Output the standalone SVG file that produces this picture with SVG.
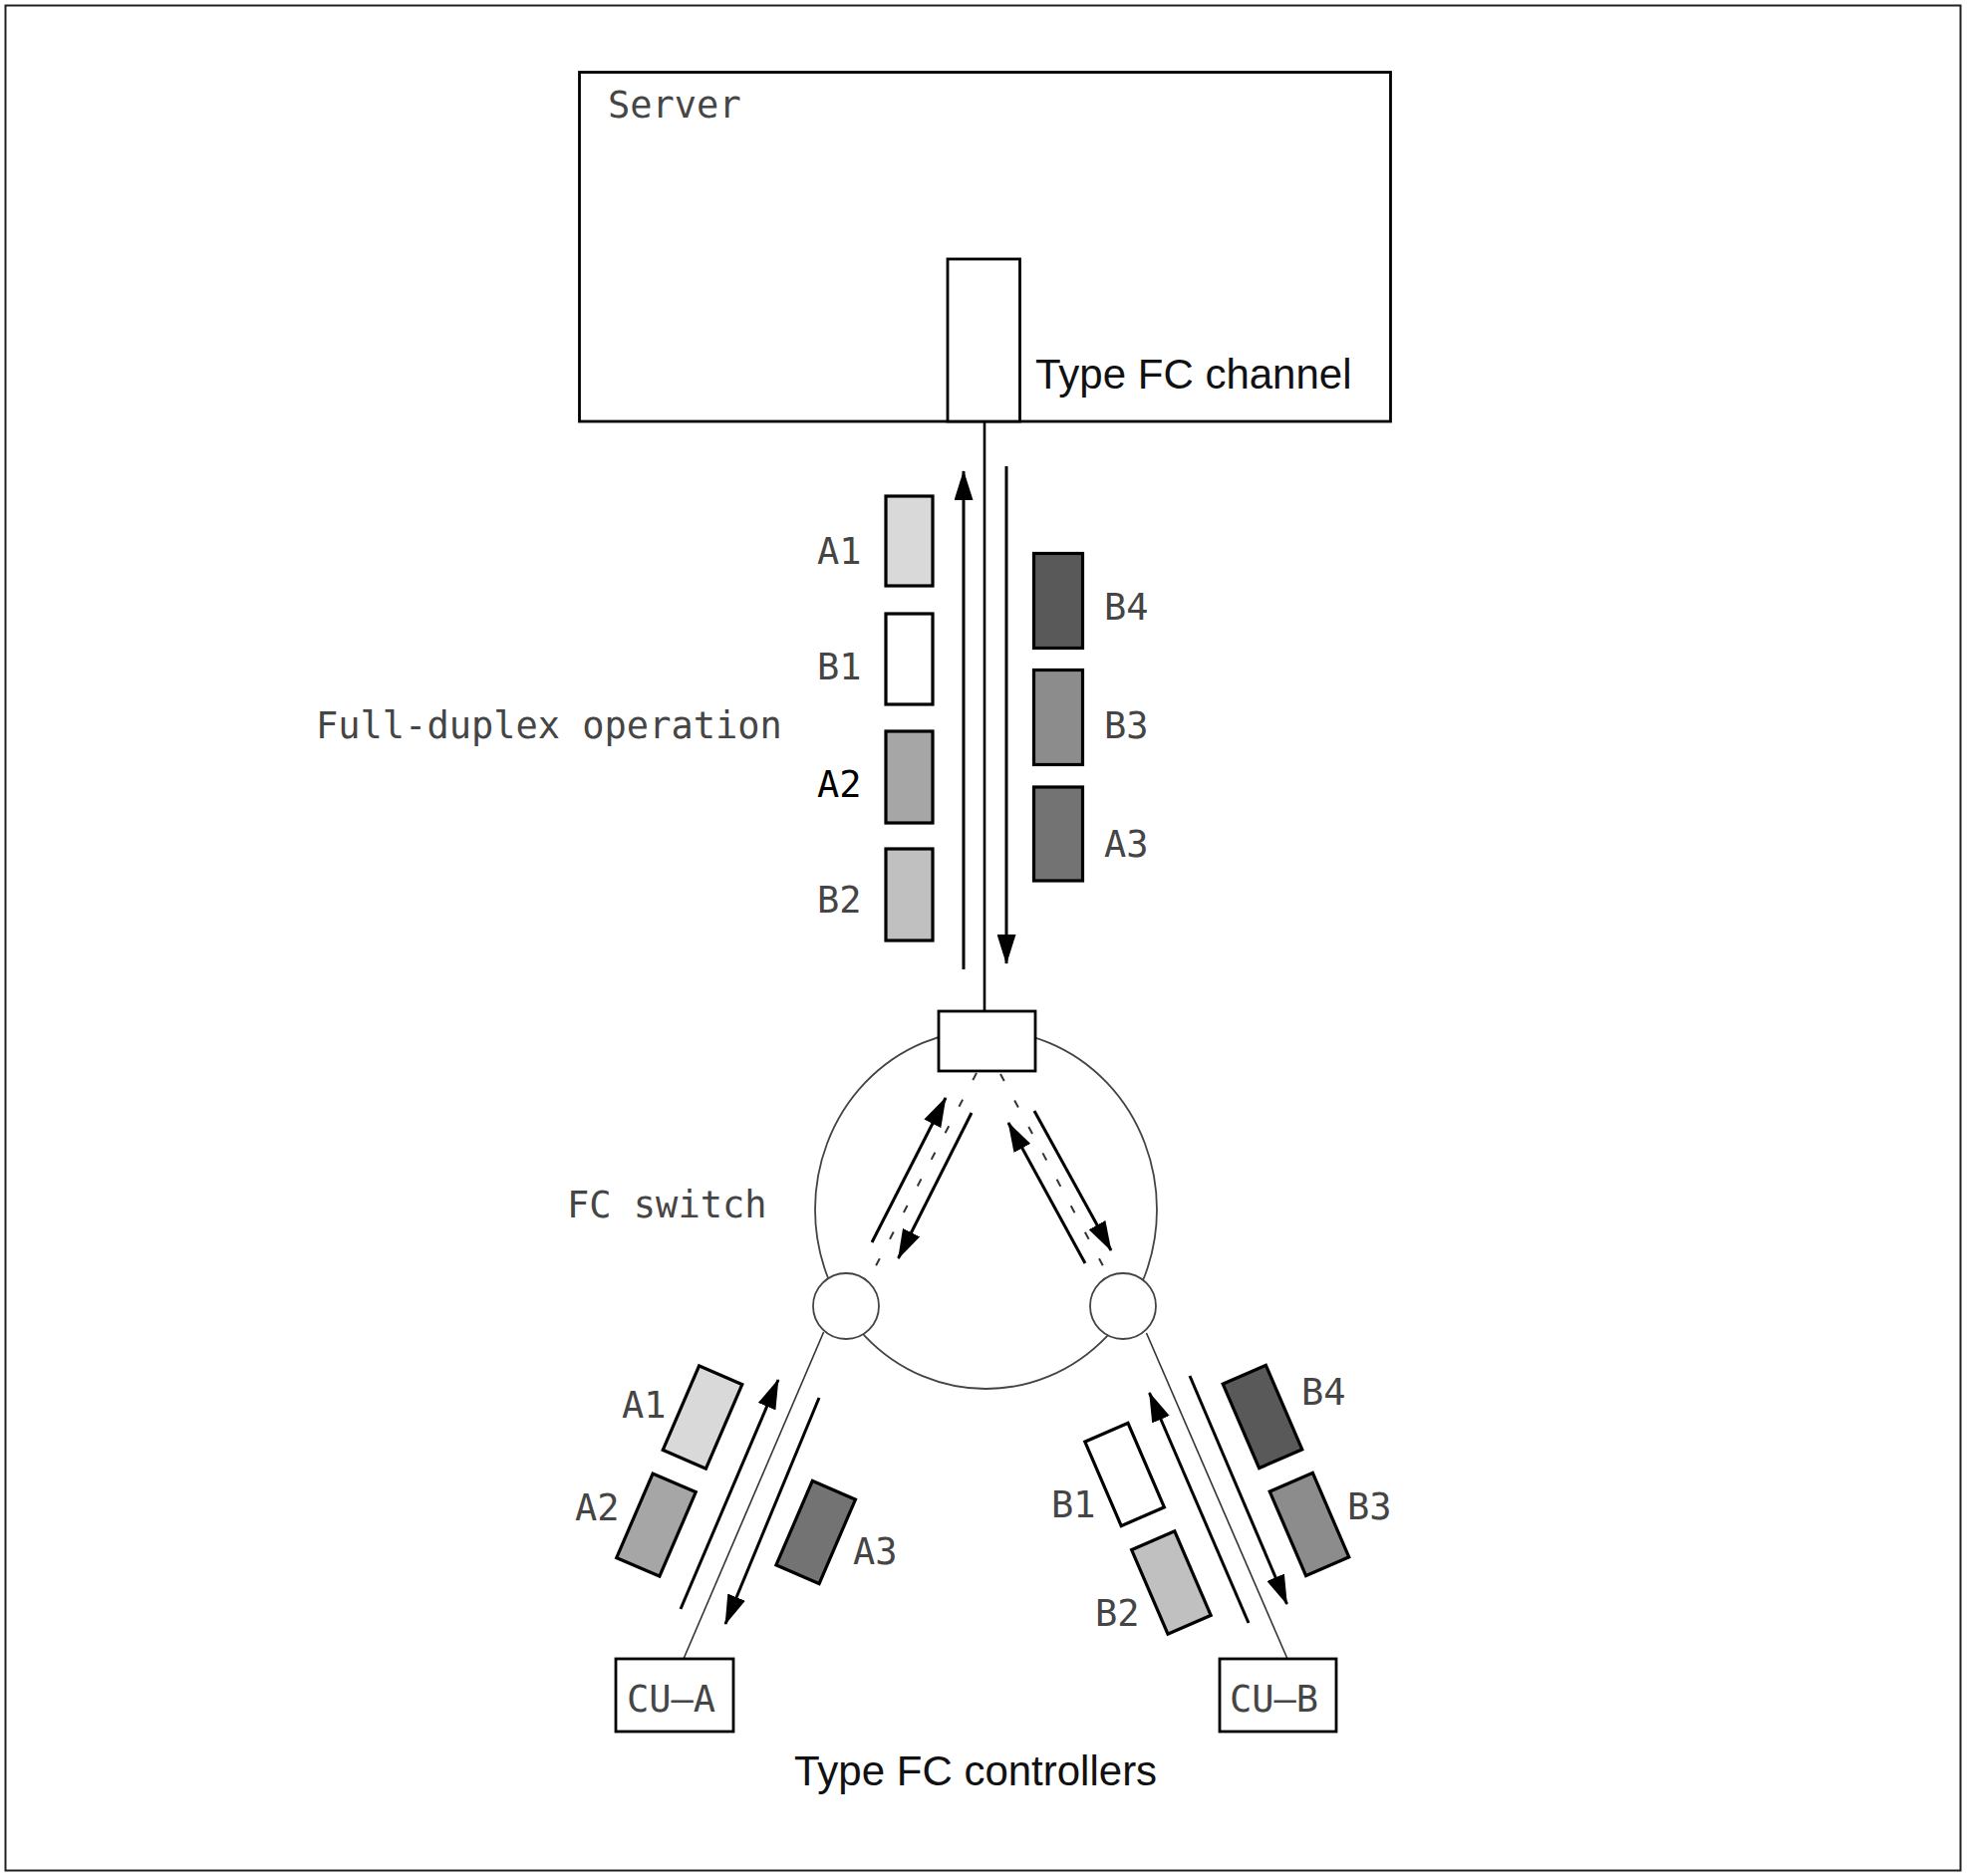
<svg xmlns="http://www.w3.org/2000/svg" width="1974" height="1883" viewBox="0 0 1974 1883">
<style>
.mono{font-family:"DejaVu Sans Mono","Liberation Mono",monospace;font-size:37px;fill:#454545}
.sans{font-family:"Liberation Sans",Arial,sans-serif;font-size:42px;fill:#111}
.box{fill:#fff;stroke:#000;stroke-width:2.8}
.pk{stroke:#000;stroke-width:3.2}
.thin{fill:none;stroke:#333;stroke-width:1.6}
.ring{fill:#fff;stroke:#444;stroke-width:1.8}
.arr{fill:none;stroke:#000;stroke-width:3;marker-end:url(#ah)}
.dash{fill:none;stroke:#333;stroke-width:2;stroke-dasharray:8 22}
.line{fill:none;stroke:#000;stroke-width:2.6}
</style>
<defs>
<marker id="ah" viewBox="0 0 30 19" refX="29" refY="9.5" markerWidth="30" markerHeight="19" markerUnits="userSpaceOnUse" orient="auto">
<path d="M0,0 L30,9.5 L0,19 z" fill="#000"/>
</marker>
</defs>
<rect width="1974" height="1883" fill="#fff"/>
<rect id="frame" x="5.5" y="5.5" width="1962" height="1872" fill="none" stroke="#222" stroke-width="2"/>

<g id="server">
<rect class="box" x="581.5" y="72.5" width="814" height="350.5"/>
<text class="mono" x="610" y="118">Server</text>
</g>
<g id="fc-channel">
<rect class="box" x="951" y="260" width="72.5" height="163"/>
<text class="sans" x="1039" y="390">Type FC channel</text>
</g>

<g id="fc-switch">
<ellipse class="ring" cx="989.5" cy="1214" rx="171.5" ry="180"/>
<text class="mono" x="569" y="1222">FC switch</text>
</g>

<g id="connectors">
<line class="line" x1="988" y1="423" x2="988" y2="1015"/>
<line class="arr" x1="967" y1="973" x2="967" y2="473"/>
<line class="arr" x1="1010" y1="468" x2="1010" y2="967"/>
<line class="dash" x1="980" y1="1077" x2="873" y2="1282"/>
<line class="dash" x1="1004" y1="1078" x2="1112" y2="1280"/>
<line class="arr" x1="875" y1="1247" x2="949" y2="1102"/>
<line class="arr" x1="975" y1="1117" x2="901.5" y2="1263"/>
<line class="arr" x1="1089" y1="1268" x2="1012" y2="1127"/>
<line class="arr" x1="1038" y1="1115" x2="1115" y2="1255"/>
<line class="thin" x1="826.6" y1="1337" x2="686" y2="1665"/>
<line class="thin" x1="1150.5" y1="1338" x2="1292" y2="1665"/>
<line class="arr" x1="683" y1="1615" x2="781" y2="1385"/>
<line class="arr" x1="822" y1="1403" x2="728" y2="1630"/>
<line class="arr" x1="1253" y1="1629" x2="1153.5" y2="1398"/>
<line class="arr" x1="1194" y1="1381" x2="1291.5" y2="1610"/>
</g>

<g id="switch-port-top"><rect class="box" x="942" y="1015" width="97" height="60"/></g>
<g id="switch-port-left"><circle class="ring" cx="849" cy="1311" r="33"/></g>
<g id="switch-port-right"><circle class="ring" cx="1127" cy="1311" r="33"/></g>

<g id="packets-up">
<rect class="pk" x="889" y="498" width="47" height="90" fill="#d9d9d9"/>
<text class="mono" x="820" y="566">A1</text>
<rect class="pk" x="889" y="616" width="47" height="91" fill="#fff"/>
<text class="mono" x="820" y="682">B1</text>
<rect class="pk" x="889" y="734" width="47" height="92" fill="#a6a6a6"/>
<text class="mono" x="820" y="800" style="fill:#000">A2</text>
<rect class="pk" x="889" y="852" width="47" height="92" fill="#c0c0c0"/>
<text class="mono" x="820" y="916">B2</text>
</g>
<g id="packets-down">
<rect class="pk" x="1037.5" y="555.5" width="49" height="95" fill="#595959"/>
<text class="mono" x="1108" y="622">B4</text>
<rect class="pk" x="1037.5" y="672.5" width="49" height="95" fill="#8c8c8c"/>
<text class="mono" x="1108" y="741">B3</text>
<rect class="pk" x="1037.5" y="790" width="49" height="94" fill="#737373"/>
<text class="mono" x="1108" y="860">A3</text>
</g>
<text class="mono" x="317" y="741">Full-duplex operation</text>

<g id="packets-cu-a">
<rect class="pk" x="-23.5" y="-46" width="47" height="92" fill="#d9d9d9" transform="translate(705,1422.5) rotate(23.3)"/>
<rect class="pk" x="-23.5" y="-46" width="47" height="92" fill="#a6a6a6" transform="translate(658.5,1530.6) rotate(23.3)"/>
<rect class="pk" x="-23.5" y="-46" width="47" height="92" fill="#737373" transform="translate(818.7,1538) rotate(23.3)"/>
<text class="mono" x="624" y="1423">A1</text>
<text class="mono" x="577" y="1526">A2</text>
<text class="mono" x="856" y="1570">A3</text>
</g>
<g id="packets-cu-b">
<rect class="pk" x="-23.5" y="-46" width="47" height="92" fill="#595959" transform="translate(1267,1422) rotate(-23.3)"/>
<rect class="pk" x="-23.5" y="-46" width="47" height="92" fill="#8c8c8c" transform="translate(1314,1530) rotate(-23.3)"/>
<rect class="pk" x="-23.5" y="-46" width="47" height="92" fill="#fff" transform="translate(1128.6,1480) rotate(-23.3)"/>
<rect class="pk" x="-23.5" y="-46" width="47" height="92" fill="#c0c0c0" transform="translate(1175.4,1588.5) rotate(-23.3)"/>
<text class="mono" x="1306" y="1410">B4</text>
<text class="mono" x="1352" y="1525">B3</text>
<text class="mono" x="1055" y="1523">B1</text>
<text class="mono" x="1099" y="1632">B2</text>
</g>

<g id="cu-a">
<rect class="box" x="618" y="1665" width="118" height="73"/>
<text class="mono" x="629" y="1718">CU–A</text>
</g>
<g id="cu-b">
<rect class="box" x="1224" y="1665" width="117" height="73"/>
<text class="mono" x="1234" y="1718">CU–B</text>
</g>
<text class="sans" x="797" y="1792">Type FC controllers</text>
</svg>
